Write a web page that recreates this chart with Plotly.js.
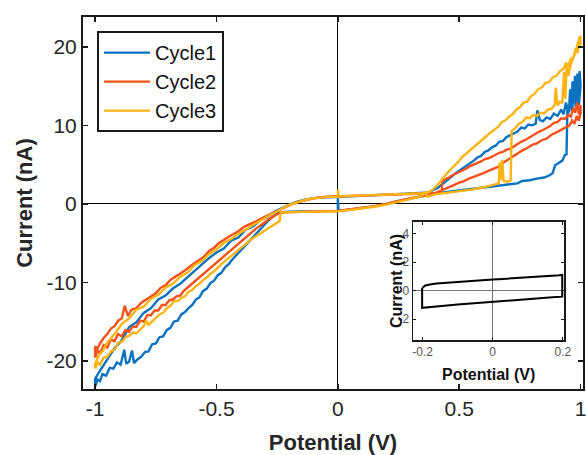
<!DOCTYPE html>
<html>
<head>
<meta charset="utf-8">
<script src="https://cdn.plot.ly/plotly-3.0.1.min.js"></script>
<style>html,body{margin:0;padding:0;background:#fff;}#chart{width:586px;height:455px;}</style>
</head>
<body>
<div id="chart"></div>
<script>
// ---------- data ----------
var seriesNames = ['Cycle1', 'Cycle2', 'Cycle3'];

// Cycle1: forward sweep (lower path, x increasing)
var cycle1Forward = [[-1.000,-23.3],[-0.990,-22.4],[-0.980,-22.6],[-0.970,-21.7],[-0.955,-21.9],[-0.940,-20.9],[-0.925,-21.0],[-0.910,-20.2],[-0.895,-20.5],[-0.880,-18.6],[-0.872,-20.4],[-0.860,-20.1],[-0.848,-18.7],[-0.840,-20.3],[-0.825,-19.8],[-0.810,-19.5],[-0.795,-18.9],[-0.780,-18.8],[-0.765,-17.9],[-0.750,-17.8],[-0.735,-17.0],[-0.720,-16.9],[-0.705,-16.1],[-0.690,-15.8],[-0.675,-15.0],[-0.660,-14.9],[-0.645,-14.1],[-0.630,-13.8],[-0.615,-13.3],[-0.600,-12.9],[-0.585,-12.2],[-0.570,-11.9],[-0.555,-11.1],[-0.540,-10.8],[-0.525,-10.1],[-0.510,-9.8],[-0.495,-9.1],[-0.480,-8.8],[-0.465,-8.1],[-0.450,-7.7],[-0.435,-7.1],[-0.420,-6.6],[-0.405,-6.1],[-0.390,-5.6],[-0.375,-5.1],[-0.360,-4.6],[-0.345,-4.1],[-0.330,-3.5],[-0.315,-3.1],[-0.300,-2.6],[-0.285,-2.1],[-0.270,-1.7],[-0.255,-1.3],[-0.240,-1.1],[-0.200,-1.0],[-0.150,-0.98],[-0.100,-0.95],[-0.050,-0.92],[0,-0.9],[0,0.7],[0.003,-0.9],[0.050,-0.72],[0.100,-0.55],[0.150,-0.33],[0.200,-0.05],[0.250,0.35],[0.300,0.65],[0.350,0.95],[0.400,1.3],[0.450,1.5],[0.500,1.7],[0.550,1.85],[0.600,2.05],[0.650,2.25],[0.700,2.45],[0.740,2.6],[0.760,2.9],[0.790,3.0],[0.820,3.2],[0.850,3.35],[0.870,3.6],[0.885,3.9],[0.895,4.9],[0.910,5.2],[0.925,5.5],[0.935,6.2],[0.942,6.3],[0.946,12.6],[0.952,11.7],[0.957,14.6],[0.962,12.1],[0.967,15.6],[0.972,13.0],[0.977,16.3],[0.982,12.6],[0.987,16.6],[0.992,14.0],[0.996,16.9],[1.000,15.4]];
// Cycle1: reverse sweep (upper path, x decreasing)
var cycle1Reverse = [[1.000,15.0],[0.993,12.6],[0.987,16.0],[0.980,12.3],[0.972,14.7],[0.965,11.7],[0.957,13.5],[0.950,11.5],[0.940,12.9],[0.930,11.4],[0.920,12.0],[0.905,11.2],[0.890,11.5],[0.875,10.8],[0.860,11.0],[0.845,10.5],[0.832,10.7],[0.822,11.9],[0.815,10.2],[0.800,10.0],[0.785,10.1],[0.770,9.6],[0.755,9.7],[0.740,9.2],[0.725,9.0],[0.710,8.7],[0.695,8.5],[0.680,8.0],[0.665,7.9],[0.650,7.4],[0.635,7.2],[0.620,6.8],[0.605,6.6],[0.590,6.1],[0.575,5.9],[0.560,5.5],[0.545,5.2],[0.530,4.9],[0.515,4.5],[0.500,4.3],[0.485,3.9],[0.470,3.5],[0.455,3.1],[0.440,2.7],[0.425,2.4],[0.410,2.0],[0.395,1.8],[0.380,1.55],[0.360,1.4],[0.300,1.3],[0.250,1.2],[0.200,1.15],[0.150,1.1],[0.100,1.0],[0.050,0.95],[0,0.9],[-0.050,0.85],[-0.100,0.72],[-0.140,0.5],[-0.170,0.25],[-0.200,-0.1],[-0.230,-0.5],[-0.260,-1.0],[-0.290,-1.7],[-0.320,-2.1],[-0.350,-2.9],[-0.380,-3.3],[-0.410,-4.3],[-0.440,-4.7],[-0.470,-5.7],[-0.500,-6.2],[-0.530,-6.9],[-0.560,-7.7],[-0.590,-8.5],[-0.620,-9.4],[-0.650,-10.2],[-0.680,-10.8],[-0.710,-11.7],[-0.740,-12.2],[-0.770,-13.3],[-0.800,-13.9],[-0.830,-15.1],[-0.860,-15.7],[-0.890,-17.4],[-0.920,-18.4],[-0.950,-19.8],[-0.970,-20.7],[-0.985,-21.5],[-1.000,-22.3]];

// Cycle2
var cycle2Forward = [[-1.000,-19.6],[-0.990,-18.6],[-0.980,-19.1],[-0.965,-18.0],[-0.950,-18.3],[-0.935,-17.3],[-0.920,-17.5],[-0.905,-16.6],[-0.890,-16.9],[-0.875,-16.1],[-0.860,-16.3],[-0.845,-15.6],[-0.830,-15.7],[-0.815,-14.9],[-0.800,-15.0],[-0.785,-14.2],[-0.770,-14.2],[-0.755,-13.6],[-0.740,-13.6],[-0.725,-12.9],[-0.710,-12.9],[-0.695,-12.3],[-0.680,-12.2],[-0.665,-11.8],[-0.650,-11.7],[-0.635,-11.1],[-0.620,-10.7],[-0.605,-10.3],[-0.590,-9.9],[-0.575,-9.5],[-0.560,-9.0],[-0.545,-8.7],[-0.530,-8.2],[-0.515,-7.9],[-0.500,-7.4],[-0.485,-7.1],[-0.470,-6.6],[-0.455,-6.3],[-0.440,-5.8],[-0.425,-5.5],[-0.410,-5.0],[-0.395,-4.7],[-0.380,-4.2],[-0.365,-3.9],[-0.350,-3.5],[-0.335,-3.1],[-0.320,-2.8],[-0.305,-2.4],[-0.290,-2.1],[-0.275,-1.8],[-0.260,-1.5],[-0.245,-1.25],[-0.220,-1.1],[-0.150,-1.0],[-0.080,-0.97],[0,-0.9],[0.050,-0.7],[0.100,-0.52],[0.150,-0.3],[0.200,0.0],[0.250,0.38],[0.300,0.7],[0.350,1.0],[0.380,1.15],[0.400,1.35],[0.420,1.6],[0.440,1.9],[0.460,2.2],[0.480,2.4],[0.500,2.7],[0.520,2.9],[0.540,3.2],[0.560,3.4],[0.580,3.7],[0.600,3.9],[0.620,4.2],[0.640,4.4],[0.660,4.7],[0.680,5.2],[0.700,5.6],[0.720,6.1],[0.740,6.5],[0.760,6.8],[0.780,7.1],[0.800,7.5],[0.820,7.7],[0.840,8.1],[0.860,8.3],[0.880,8.8],[0.900,9.1],[0.920,9.4],[0.940,9.8],[0.955,10.0],[0.965,10.6],[0.975,10.2],[0.985,11.2],[0.992,10.6],[1.000,11.5]];
var cycle2Reverse = [[1.000,12.6],[0.993,11.4],[0.986,12.9],[0.978,11.6],[0.970,12.2],[0.960,11.1],[0.950,11.3],[0.935,10.8],[0.920,10.9],[0.905,10.4],[0.890,10.3],[0.875,9.9],[0.860,9.6],[0.845,9.4],[0.830,9.2],[0.815,8.9],[0.800,8.6],[0.785,8.4],[0.770,8.1],[0.755,7.9],[0.740,7.6],[0.725,7.3],[0.710,7.0],[0.695,6.9],[0.680,6.6],[0.665,6.5],[0.650,6.2],[0.635,6.0],[0.620,5.8],[0.605,5.7],[0.590,5.4],[0.575,5.2],[0.560,5.0],[0.545,4.8],[0.530,4.5],[0.515,4.3],[0.500,4.1],[0.485,3.8],[0.470,3.6],[0.455,3.3],[0.440,3.0],[0.430,2.9],[0.428,1.4],[0.400,1.35],[0.360,1.3],[0.300,1.25],[0.250,1.2],[0.200,1.15],[0.150,1.1],[0.100,1.05],[0.050,1.0],[0,0.95],[-0.050,0.9],[-0.090,0.76],[-0.130,0.5],[-0.160,0.25],[-0.185,0.0],[-0.210,-0.35],[-0.235,-0.7],[-0.260,-1.0],[-0.285,-1.4],[-0.310,-1.8],[-0.335,-2.2],[-0.360,-2.6],[-0.385,-2.9],[-0.410,-3.5],[-0.430,-3.8],[-0.450,-4.2],[-0.470,-4.6],[-0.490,-5.0],[-0.510,-5.6],[-0.530,-6.0],[-0.550,-6.7],[-0.570,-7.1],[-0.590,-7.6],[-0.610,-8.0],[-0.630,-8.5],[-0.650,-8.9],[-0.670,-9.4],[-0.690,-9.7],[-0.710,-10.4],[-0.730,-10.7],[-0.750,-11.4],[-0.770,-11.8],[-0.790,-12.3],[-0.810,-12.6],[-0.830,-13.3],[-0.850,-13.5],[-0.865,-14.3],[-0.878,-13.0],[-0.890,-14.6],[-0.905,-14.9],[-0.920,-15.6],[-0.935,-15.9],[-0.950,-16.6],[-0.965,-17.1],[-0.980,-17.8],[-0.990,-18.4],[-1.000,-18.2]];

// Cycle3
var cycle3Forward = [[-1.000,-21.0],[-0.990,-20.2],[-0.980,-20.5],[-0.965,-19.6],[-0.950,-19.5],[-0.935,-18.8],[-0.920,-18.6],[-0.905,-17.7],[-0.890,-17.6],[-0.875,-17.0],[-0.860,-16.8],[-0.845,-16.4],[-0.830,-16.5],[-0.815,-16.0],[-0.800,-15.6],[-0.790,-14.9],[-0.780,-15.4],[-0.765,-15.0],[-0.750,-14.6],[-0.735,-14.1],[-0.720,-13.9],[-0.705,-13.3],[-0.690,-13.0],[-0.675,-12.4],[-0.660,-12.4],[-0.645,-12.0],[-0.630,-11.8],[-0.615,-11.2],[-0.600,-11.0],[-0.585,-10.5],[-0.570,-10.2],[-0.555,-9.7],[-0.540,-9.4],[-0.525,-8.9],[-0.510,-8.6],[-0.495,-8.1],[-0.480,-7.7],[-0.465,-7.3],[-0.450,-6.9],[-0.435,-6.5],[-0.420,-6.1],[-0.405,-5.7],[-0.390,-5.3],[-0.375,-5.0],[-0.360,-4.6],[-0.345,-4.3],[-0.330,-4.0],[-0.315,-3.7],[-0.300,-3.5],[-0.285,-3.2],[-0.270,-2.9],[-0.255,-2.6],[-0.240,-2.2],[-0.236,-1.1],[-0.200,-1.05],[-0.150,-1.03],[-0.100,-1.0],[-0.050,-0.98],[0,-0.97],[0.050,-0.8],[0.100,-0.6],[0.150,-0.38],[0.200,-0.1],[0.250,0.25],[0.300,0.6],[0.340,0.9],[0.360,1.4],[0.370,0.9],[0.400,1.2],[0.450,1.4],[0.500,1.6],[0.550,1.8],[0.600,2.1],[0.640,2.4],[0.663,2.6],[0.667,5.3],[0.672,3.0],[0.677,5.6],[0.683,2.9],[0.700,2.8],[0.712,3.0],[0.716,9.3],[0.730,9.6],[0.745,10.2],[0.760,10.4],[0.775,11.0],[0.790,10.9],[0.805,11.3],[0.820,11.2],[0.835,11.6],[0.850,11.5],[0.865,12.0],[0.880,12.1],[0.893,12.6],[0.898,14.8],[0.905,12.5],[0.915,13.0],[0.925,12.9],[0.932,16.8],[0.937,13.4],[0.943,17.6],[0.950,16.3],[0.960,17.8],[0.970,18.6],[0.980,19.4],[0.990,20.6],[1.000,21.4]];
var cycle3Reverse = [[1.000,20.2],[0.994,21.2],[0.988,19.2],[0.980,19.8],[0.970,18.6],[0.960,18.5],[0.950,17.6],[0.940,17.9],[0.930,17.2],[0.915,16.9],[0.900,16.3],[0.885,16.1],[0.870,15.5],[0.855,15.4],[0.840,14.8],[0.825,14.6],[0.810,14.0],[0.795,13.7],[0.780,13.0],[0.765,12.9],[0.750,12.3],[0.735,12.0],[0.720,11.4],[0.705,11.1],[0.690,10.6],[0.675,10.4],[0.660,9.8],[0.645,9.5],[0.630,9.1],[0.615,8.7],[0.600,8.3],[0.585,7.9],[0.570,7.6],[0.555,7.1],[0.540,6.8],[0.525,6.3],[0.510,5.9],[0.495,5.3],[0.480,4.9],[0.465,4.4],[0.450,3.9],[0.435,3.3],[0.420,2.7],[0.405,2.2],[0.390,1.8],[0.375,1.5],[0.350,1.35],[0.300,1.3],[0.250,1.25],[0.200,1.2],[0.150,1.15],[0.100,1.05],[0.050,1.0],[0.003,0.95],[0.001,1.8],[0,0.9],[-0.050,0.85],[-0.100,0.7],[-0.140,0.45],[-0.170,0.2],[-0.200,-0.15],[-0.230,-0.6],[-0.260,-1.1],[-0.290,-1.6],[-0.320,-2.2],[-0.350,-2.7],[-0.380,-3.3],[-0.410,-3.8],[-0.440,-4.5],[-0.470,-5.0],[-0.500,-5.8],[-0.530,-6.4],[-0.560,-7.3],[-0.590,-7.8],[-0.620,-8.8],[-0.650,-9.3],[-0.680,-10.2],[-0.710,-10.7],[-0.740,-11.6],[-0.770,-12.1],[-0.800,-13.1],[-0.830,-13.5],[-0.860,-14.6],[-0.890,-15.3],[-0.920,-16.6],[-0.950,-17.7],[-0.970,-18.8],[-0.985,-19.3],[-1.000,-20.4]];

// Inset: small-window cycle (-0.2 V .. 0.2 V)
var insetLoop = [[-0.200,0.20],[-0.192,0.36],[-0.175,0.44],[-0.160,0.50],[-0.130,0.56],[-0.100,0.62],[-0.070,0.68],[-0.040,0.72],[0,0.78],[0.030,0.82],[0.060,0.86],[0.090,0.90],[0.120,0.95],[0.150,1.00],[0.180,1.05],[0.198,1.10],[0.198,-0.42],[0.170,-0.47],[0.140,-0.52],[0.110,-0.58],[0.080,-0.63],[0.050,-0.68],[0.020,-0.74],[-0.010,-0.79],[-0.040,-0.85],[-0.070,-0.91],[-0.100,-0.97],[-0.130,-1.03],[-0.160,-1.09],[-0.185,-1.15],[-0.201,-1.20],[-0.201,0.20]];

var mainXTicks = [-1, -0.5, 0, 0.5, 1];
var mainXLabels = ['-1', '-0.5', '0', '0.5', '1'];
var mainYTicks = [-20, -10, 0, 10, 20];
var mainYLabels = ['-20', '-10', '0', '10', '20'];
var insetXTicks = [-0.2, 0, 0.2];
var insetXLabels = ['-0.2', '0', '0.2'];
var insetYTicks = [-2, 0, 2, 4];
var insetYLabels = ['-2', '0', '2', '4'];

// ---------- build ----------
var colors = ['#0a72bf', '#f5521b', '#fdb414'];
var cycles = [[cycle1Forward, cycle1Reverse], [cycle2Forward, cycle2Reverse], [cycle3Forward, cycle3Reverse]];
var FONT = 'Liberation Sans, Arial, Helvetica, sans-serif';
var traces = cycles.map(function (c, i) {
  var pts = c[0].concat(c[1]).concat([c[0][0]]);
  return {
    x: pts.map(function (p) { return p[0]; }),
    y: pts.map(function (p) { return p[1]; }),
    type: 'scatter', mode: 'lines', name: seriesNames[i],
    line: {color: colors[i], width: 2.4},
    xaxis: 'x', yaxis: 'y'
  };
});
traces.push({
  x: insetLoop.map(function (p) { return p[0]; }),
  y: insetLoop.map(function (p) { return p[1]; }),
  type: 'scatter', mode: 'lines', showlegend: false,
  line: {color: '#000', width: 2},
  xaxis: 'x2', yaxis: 'y2'
});

var axisCommon = {
  showgrid: false, showline: true, mirror: 'ticks', linecolor: '#1a1a1a', linewidth: 2,
  ticks: 'inside', ticklen: 5, tickwidth: 1.5, tickcolor: '#1a1a1a',
  tickfont: {family: FONT, size: 21, color: '#262626'}, ticklabeloverflow: 'allow',
  zeroline: true, zerolinecolor: '#000', zerolinewidth: 1, tickmode: 'array'
};
var insetCommon = {
  showgrid: false, showline: true, mirror: 'ticks', linecolor: '#1a1a1a', linewidth: 1.5,
  ticks: 'inside', ticklen: 3, tickwidth: 1, tickcolor: '#1a1a1a',
  tickfont: {family: FONT, size: 12, color: '#555'}, ticklabeloverflow: 'allow',
  zeroline: true, zerolinecolor: '#777', zerolinewidth: 1, tickmode: 'array'
};

var layout = {
  width: 586, height: 455,
  margin: {l: 83, r: 3, t: 17, b: 66},
  paper_bgcolor: '#fff', plot_bgcolor: 'rgba(0,0,0,0)',
  font: {family: FONT, color: '#262626'},
  xaxis: Object.assign({}, axisCommon, {
    domain: [0, 1], range: [-1.05, 1.01], anchor: 'y',
    tickvals: mainXTicks, ticktext: mainXLabels,
    title: {text: '<b>Potential (V)</b>', font: {family: FONT, size: 22, color: '#262626'}, standoff: 17}
  }),
  yaxis: Object.assign({}, axisCommon, {
    domain: [0, 1], range: [-23.6, 23.8], anchor: 'x',
    tickvals: mainYTicks, ticktext: mainYLabels,
    title: {text: '<b>Current (nA)</b>', font: {family: FONT, size: 22, color: '#262626'}, standoff: 8}
  }),
  xaxis2: Object.assign({}, insetCommon, {
    domain: [0.66, 0.962], range: [-0.227, 0.203], anchor: 'y2',
    tickvals: insetXTicks, ticktext: insetXLabels
  }),
  yaxis2: Object.assign({}, insetCommon, {
    domain: [0.1317, 0.449], range: [-3.45, 4.8], anchor: 'x2',
    tickvals: insetYTicks, ticktext: insetYLabels
  }),
  legend: {
    x: 0.028, y: 0.962, xanchor: 'left', yanchor: 'top',
    bgcolor: '#fff', bordercolor: '#1a1a1a', borderwidth: 2,
    font: {family: FONT, size: 20, color: '#111'},
    itemwidth: 46, tracegroupgap: 0
  },
  annotations: [
    {text: '<b>Potential (V)</b>', xref: 'paper', yref: 'paper', x: 0.81, y: (389 - 364) / 372,
     xanchor: 'center', yanchor: 'top', showarrow: false, font: {family: FONT, size: 16, color: '#111'}},
    {text: '<b>Current (nA)</b>', xref: 'paper', yref: 'paper', x: 0.626, y: 0.29,
     xanchor: 'center', yanchor: 'middle', textangle: -90, showarrow: false,
     font: {family: FONT, size: 16, color: '#111'}}
  ],
  showlegend: true
};

Plotly.newPlot('chart', traces, layout, {displayModeBar: false, staticPlot: true});
</script>
</body>
</html>
